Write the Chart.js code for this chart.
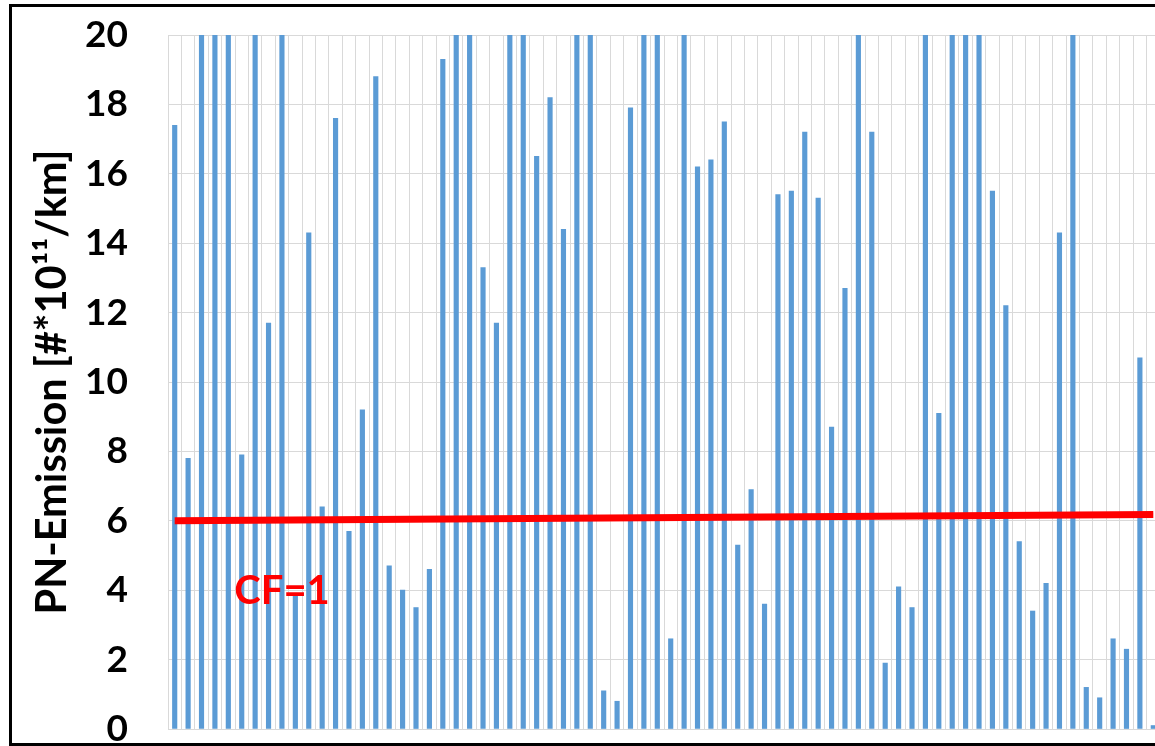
<!DOCTYPE html>
<html>
<head>
<meta charset="utf-8">
<script src="https://cdn.jsdelivr.net/npm/chart.js@4"></script>
<style>
  html, body { margin: 0; padding: 0; background: #fff; overflow: hidden; }
  #frame {
    position: absolute; left: 9px; top: 4px;
    width: 1400px; height: 736px;
    border: 3px solid #000; border-right: none;
  }
  #wrap { position: absolute; left: 0; top: 0; width: 1150px; height: 736px; }
</style>
</head>
<body>
<div id="frame"><div id="wrap"><canvas id="pnChart"></canvas></div></div>
<script>
// PN emission per trip, values above 20 are cut off by the axis
const pnValues = [
  17.4, 7.8, 20, 20, 20, 7.9, 20, 11.7, 20, 3.9,
  14.3, 6.4, 17.6, 5.7, 9.2, 18.8, 4.7, 4.0, 3.5, 4.6,
  19.3, 20, 20, 13.3, 11.7, 20, 20, 16.5, 18.2, 14.4,
  20, 20, 1.1, 0.8, 17.9, 20, 20, 2.6, 20, 16.2,
  16.4, 17.5, 5.3, 6.9, 3.6, 15.4, 15.5, 17.2, 15.3, 8.7,
  12.7, 20, 17.2, 1.9, 4.1, 3.5, 20, 9.1, 20, 20,
  20, 15.5, 12.2, 5.4, 3.4, 4.2, 14.3, 20, 1.2, 0.9,
  2.6, 2.3, 10.7, 0.1
];
const trips = pnValues.map((_, i) => String(i + 1));

// CF=1 limit line (start / end)
const cfLine = [6.0, 6.18];
const cfLabel = 'CF=1';
const yTicks = [0, 2, 4, 6, 8, 10, 12, 14, 16, 18, 20];

const cfText = {
  id: 'cfText',
  afterDatasetsDraw(chart) {
    const { ctx, scales } = chart;
    ctx.save();
    ctx.font = 'bold 40px Lato';
    ctx.fillStyle = '#ff0000';
    ctx.textBaseline = 'alphabetic';
    ctx.fillText(cfLabel, scales.x.getPixelForValue(4) + 6, scales.y.getPixelForValue(3.6));
    ctx.restore();
  }
};

new Chart(document.getElementById('pnChart'), {
  type: 'bar',
  data: {
    labels: trips,
    datasets: [
      {
        type: 'line',
        label: cfLabel,
        data: [
          { x: trips[0], y: cfLine[0] },
          { x: trips[trips.length - 1], y: cfLine[1] }
        ],
        borderColor: '#ff0000',
        borderWidth: 7,
        pointRadius: 0,
        fill: false,
        order: 0
      },
      {
        label: 'PN-Emission',
        data: pnValues,
        backgroundColor: '#5b9bd5',
        barThickness: 4.5,
        order: 1
      }
    ]
  },
  options: {
    responsive: true,
    maintainAspectRatio: false,
    animation: false,
    layout: { padding: { top: 28, right: 2, bottom: 14, left: 0 } },
    plugins: {
      legend: { display: false },
      tooltip: { enabled: false }
    },
    scales: {
      x: {
        ticks: { display: false },
        grid: { color: '#d9d9d9', drawTicks: false },
        border: { display: false }
      },
      y: {
        min: 0,
        max: 20,
        afterBuildTicks(scale) {
          scale.ticks = yTicks.map(v => ({ value: v }));
        },
        afterFit(scale) {
          // fixed axis width, and don't let the big tick padding push the plot in
          scale.width = 156;
          scale.paddingTop = 0;
          scale.paddingBottom = 0;
        },
        ticks: {
          color: '#000',
          padding: 40,
          font: { family: 'Lato', weight: 'bold', size: 37 }
        },
        grid: { color: '#d9d9d9', drawTicks: false },
        border: { display: false },
        title: {
          display: true,
          text: 'PN-Emission [#*10\u00b9\u00b9/km]',
          color: '#000',
          padding: { top: 16, bottom: 0 },
          font: { family: 'Lato', weight: 'bold', size: 41.5 }
        }
      }
    }
  },
  plugins: [cfText]
});
</script>
</body>
</html>
